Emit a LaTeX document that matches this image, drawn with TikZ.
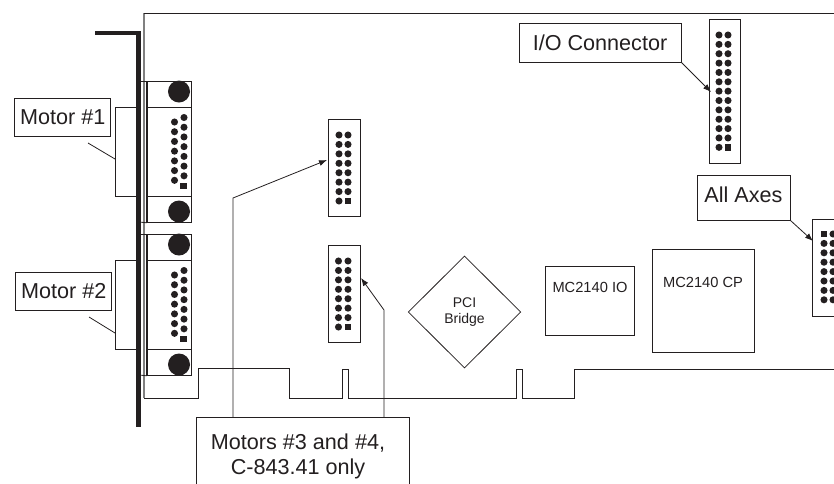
\documentclass[tikz,border=0pt]{standalone}
\usepackage{fontspec}
\setmainfont{Liberation Sans}
\usepackage{tikz}
\usetikzlibrary{arrows.meta,positioning,shapes.geometric}
\definecolor{ink}{HTML}{231F20}
\begin{document}
\begin{tikzpicture}[x=0.75pt, y=-0.75pt, color=ink, line width=0.6pt, text=ink,
  tag/.style={draw, fill=white, align=center, font=\fontsize{16.2}{19}\selectfont, inner sep=0pt},
  chip/.style={draw, anchor=north west, inner sep=0pt},
  chiptext/.style={align=center, inner sep=0pt, font=\fontsize{11}{13}\selectfont},
  hdr/.style={draw, anchor=north west, inner sep=0pt},
  pin/.style={circle, fill=ink, inner sep=0pt, minimum size=5.3pt},
  pinsq/.style={rectangle, fill=ink, inner sep=0pt, minimum size=5.2pt},
  screw/.style={circle, fill=ink, inner sep=0pt, minimum size=16.5pt},
  lead/.style={-{Latex[length=6pt,width=4.5pt]}}]
\useasboundingbox (0,0) rectangle (834,483);
\clip (0,0) rectangle (834,483);
% board outline
\draw[gray, line width=0.9pt] (144,13) -- (144,398);
\draw (834,13) -- (144,13);
\draw (144,398) -- (198.5,398) -- (198.5,368.5) -- (289,368.5) -- (289,398) -- (342.5,398) -- (342.5,369)
  -- (348.5,369) -- (348.5,398) -- (516,398) -- (516,369) -- (522,369) -- (522,398) -- (574.5,398) -- (574.5,369) -- (834,369);
% bracket
\draw[line width=3.4pt] (95,33) -- (138.5,33) -- (138.5,427);
% motor connectors
\foreach \n/\yt in {a/81, b/234} {
  \node[hdr, minimum width=33pt, minimum height=105.75pt] (sub\n) at (147,\yt) {};
  \draw (139,\yt) -- (sub\n.north west);
  \draw (139,\yt+141) -- (sub\n.south west);
  \draw[line width=1pt] (sub\n.north west) -- (sub\n.south west);
  \draw (147,\yt+26) -- (191,\yt+26);
  \draw (147,\yt+115) -- (191,\yt+115);
  \node[screw] (sc\n1) at (179,\yt+10.5) {};
  \node[screw] (sc\n2) at (179,\yt+130.5) {};
  \foreach \i in {0,...,6} {
    \node[pin] (p\n l\i) at (174.5,\yt+41+\i*9.72) {};
    \node[pin] (p\n r\i) at (184,\yt+36.5+\i*9.72) {};
  }
  \node[pinsq] (key\n) at (183.5,\yt+105) {};
}
% headers on the board
\node[hdr, minimum width=24pt, minimum height=72.75pt] (hdra) at (328,119) {};
\foreach \i in {0,...,7} {
  \node[pin] (hal\i) at (339,135+\i*9.43) {};
  \ifnum\i<7 \node[pin] (har\i) at (348,135+\i*9.43) {}; \fi
}
\node[pinsq] (keyha) at (348,201) {};
\node[hdr, minimum width=24pt, minimum height=72.75pt] (hdrb) at (328,245) {};
\foreach \i in {0,...,7} {
  \node[pin] (hbl\i) at (338.5,261+\i*9.43) {};
  \ifnum\i<7 \node[pin] (hbr\i) at (348,261+\i*9.43) {}; \fi
}
\node[pinsq] (keyhb) at (348,327) {};
\node[hdr, minimum width=23.25pt, minimum height=108pt] (hdrio) at (709,19) {};
\foreach \i in {0,...,12} {
  \node[pin] (iol\i) at (719,35+\i*9.36) {};
  \ifnum\i<12 \node[pin] (ior\i) at (728,35+\i*9.36) {}; \fi
}
\node[pinsq] (keyio) at (728,147.3) {};
\node[hdr, minimum width=30pt, minimum height=72.75pt] (hdrax) at (812,219) {};
\foreach \i in {0,...,7} {
  \node[pin] (axr\i) at (833,234+\i*9.4) {};
  \ifnum\i>0 \node[pin] (axl\i) at (824,234+\i*9.4) {}; \fi
}
\node[pinsq] (keyax) at (824,234) {};
% chips
\node[chip, minimum width=66.75pt, minimum height=51.75pt] (io) at (545,266) {};
\node[chiptext] (iotxt) at (590,287) {MC2140 IO};
\node[chip, minimum width=76.5pt, minimum height=77.25pt] (cp) at (652,249) {};
\node[chiptext] (cptxt) at (703,282) {MC2140 CP};
\node[diamond, draw, minimum width=84.5pt, minimum height=84pt, inner sep=0pt, align=center, font=\fontsize{10.5}{12.5}\selectfont] (pci) at (464.5,312) {PCI\\Bridge};
% motor cables and labels
\coordinate (caba1) at (139,107); \coordinate (caba2) at (115,107);
\coordinate (caba3) at (115,196); \coordinate (caba4) at (139,196);
\draw (caba1) -- (caba2) -- (caba3) -- (caba4);
\coordinate (cabb1) at (139,260); \coordinate (cabb2) at (115,260);
\coordinate (cabb3) at (115,349); \coordinate (cabb4) at (139,349);
\draw (cabb1) -- (cabb2) -- (cabb3) -- (cabb4);
\node[tag, minimum width=72pt, minimum height=28.5pt] (mota) at (62.75,117) {Motor \#1};
\node[tag, minimum width=72pt, minimum height=28.5pt] (motb) at (63.75,291) {Motor \#2};
\coordinate (motaf) at (88,143); \coordinate (motbf) at (89,317);
\coordinate (cabam) at (115,159); \coordinate (cabbm) at (115,333);
\draw (motaf) -- (cabam);
\draw (motbf) -- (cabbm);
% callouts
\node[tag, minimum width=121.5pt, minimum height=29.25pt] (iolab) at (600,42.5) {I/O Connector};
\node[tag, minimum width=69.75pt, minimum height=33.75pt, text depth=3.6pt] (axlab) at (743.5,197.5) {All Axes};
\coordinate (iotip) at (711,92);
\coordinate (axtip) at (813,241);
\draw[lead] (iolab.south east) -- (iotip);
\draw[lead] (axlab.south east) -- (axtip);
\node[tag, anchor=north west, minimum width=159.75pt, minimum height=60pt] (motlab) at (196,417) {};
\node[align=center, inner sep=0pt, font=\fontsize{16.2}{19}\selectfont] (mottxt) at (298,456.5) {Motors \#3 and \#4,\\C-843.41 only};
\coordinate (benda) at (233,198);
\coordinate (bendb) at (384,310);
\coordinate (foota) at (233,417);
\coordinate (footb) at (384,417);
\coordinate (tipa) at (327,160);
\coordinate (tipb) at (361,278);
\draw[lead] (foota) -- (benda) -- (tipa);
\draw[lead] (footb) -- (bendb) -- (tipb);
\end{tikzpicture}
\end{document}
